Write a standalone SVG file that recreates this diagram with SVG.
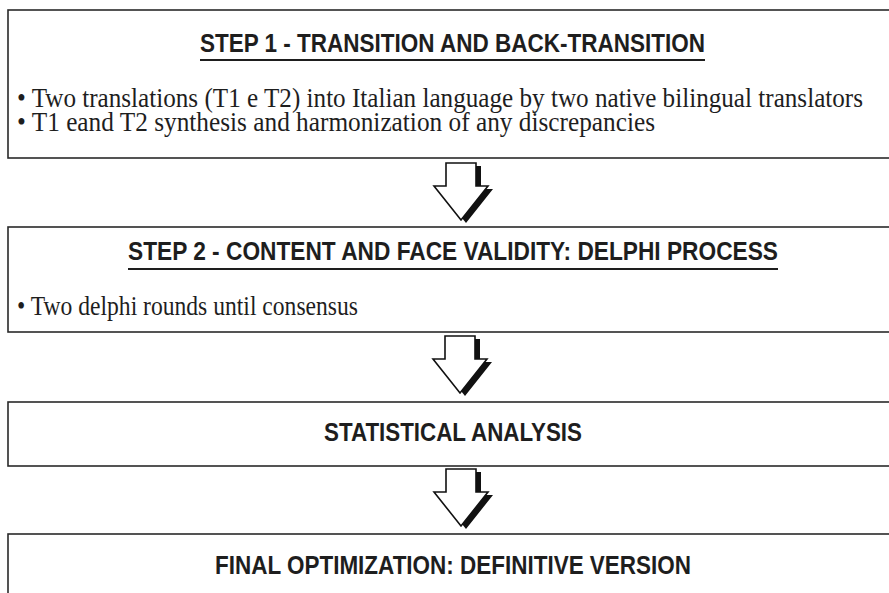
<svg xmlns="http://www.w3.org/2000/svg" width="889" height="593" viewBox="0 0 889 593">
<style>
.box{fill:#fff;stroke:#2a2a2a;stroke-width:1.6}
.title{font-family:"Liberation Sans",Arial,sans-serif;font-weight:bold;font-size:26px;fill:#1e1e1e}
.body{font-family:"Liberation Serif","Times New Roman",serif;font-size:28px;fill:#1e1e1e}
.ul{stroke:#1e1e1e;stroke-width:2.2}
.arw{fill:#fff;stroke:#111;stroke-width:1.6;stroke-linejoin:miter}
.shd{fill:#111}
</style>
<defs>
<polygon id="arrowShape" points="-15,0 15,0 15,23 27,23 0,57 -27,23 -15,23"/>
</defs>
<rect width="889" height="593" fill="#fff"/>
<g id="step1">
<rect class="box" x="8" y="10" width="900" height="148"/>
<text class="title" x="200" y="52" textLength="505" lengthAdjust="spacingAndGlyphs">STEP 1 - TRANSITION AND BACK-TRANSITION</text>
<line class="ul" x1="200" y1="60" x2="705" y2="60"/>
<text class="body" x="17" y="107" textLength="846" lengthAdjust="spacingAndGlyphs">• Two translations (T1 e T2) into Italian language by two native bilingual translators</text>
<text class="body" x="17" y="131" textLength="638" lengthAdjust="spacingAndGlyphs">• T1 eand T2 synthesis and harmonization of any discrepancies</text>
</g>
<g id="step2">
<rect class="box" x="8" y="227" width="900" height="105"/>
<text class="title" x="128" y="260" textLength="650" lengthAdjust="spacingAndGlyphs">STEP 2 - CONTENT AND FACE VALIDITY: DELPHI PROCESS</text>
<line class="ul" x1="128" y1="269" x2="778" y2="269"/>
<text class="body" x="17" y="315" textLength="341" lengthAdjust="spacingAndGlyphs">• Two delphi rounds until consensus</text>
</g>
<g id="stats">
<rect class="box" x="8" y="402" width="900" height="64"/>
<text class="title" x="324" y="441" textLength="258" lengthAdjust="spacingAndGlyphs">STATISTICAL ANALYSIS</text>
</g>
<g id="final">
<rect class="box" x="8" y="534" width="900" height="80"/>
<text class="title" x="215" y="574" textLength="476" lengthAdjust="spacingAndGlyphs">FINAL OPTIMIZATION: DEFINITIVE VERSION</text>
</g>
<g id="connectors">
<g transform="translate(461,163)">
<use href="#arrowShape" class="shd" transform="translate(5,3)"/>
<use href="#arrowShape" class="arw"/>
</g>
<g transform="translate(460,336)">
<use href="#arrowShape" class="shd" transform="translate(5,3)"/>
<use href="#arrowShape" class="arw"/>
</g>
<g transform="translate(461,469)">
<use href="#arrowShape" class="shd" transform="translate(5,3)"/>
<use href="#arrowShape" class="arw"/>
</g>
</g>
</svg>
